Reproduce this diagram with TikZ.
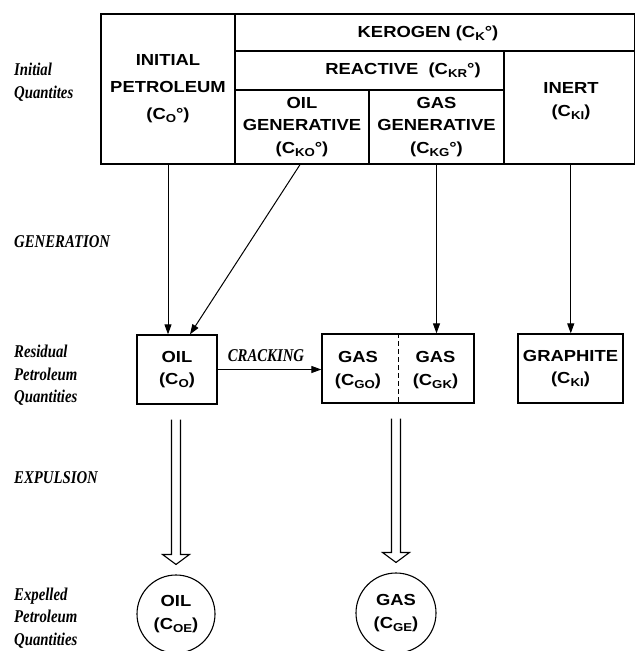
\documentclass[tikz,border=0pt]{standalone}
\usepackage{fontspec}
\usetikzlibrary{arrows.meta,calc}
\newfontfamily\boxfnt{Liberation Sans}[FakeStretch=1.15]
\newfontfamily\lblfnt{Liberation Serif}[FakeStretch=0.82]
\newcommand\sbs[1]{\raisebox{-0.35ex}{\fontsize{11.5}{12}\selectfont #1}}
\tikzset{
  cell/.style={draw, line width=1.3pt, inner sep=0pt, align=center,
    font={\boxfnt\bfseries\fontsize{16}{22.5}\selectfont}},
  txt/.style={inner sep=0pt, align=center,
    font={\boxfnt\bfseries\fontsize{16}{22.5}\selectfont}},
  lbl/.style={inner sep=0pt, align=left, anchor=west,
    font={\lblfnt\bfseries\itshape\fontsize{18}{22.5}\selectfont}},
  arr/.style={line width=1pt, -{Triangle[length=10pt,width=7pt]}},
  hollow/.style={line width=1.1pt, line join=miter},
  circ/.style={draw, circle, line width=1.1pt, inner sep=0pt, align=center,
    font={\boxfnt\bfseries\fontsize{16}{22.5}\selectfont}}
}
\begin{document}
\begin{tikzpicture}[x=1pt,y=-1pt]
\useasboundingbox (0,0) rectangle (636,651);
% top block
\node[cell, minimum width=134pt, minimum height=150pt] (ip) at (168,89) {INITIAL\\[4.5pt]PETROLEUM\\[4.5pt](C\sbs{O}°)};
\node[cell, minimum width=399.5pt, minimum height=37pt] (ker) at (434.75,32.5) {};
\node[txt] (kert) at (428,33) {KEROGEN (C\sbs{K}°)};
\node[cell, minimum width=269pt, minimum height=39pt] (rea) at (369.5,70.5) {};
\node[txt] (reat) at (403,70.5) {REACTIVE\ \ (C\sbs{KR}°)};
\node[cell, minimum width=134pt, minimum height=74pt] (og) at (302,127) {OIL\\GENERATIVE\\(C\sbs{KO}°)};
\node[cell, minimum width=135pt, minimum height=74pt] (gg) at (436.5,127) {GAS\\GENERATIVE\\(C\sbs{KG}°)};
\node[cell, minimum width=130.5pt, minimum height=113pt] (inert) at (569.25,107.5) {};
\node[txt] (inertt) at (571,101) {INERT\\(C\sbs{KI})};
% second row
\node[cell, minimum width=80pt, minimum height=69pt] (oilbox) at (177,369.5) {OIL\\(C\sbs{O})};
\node[cell, minimum width=152pt, minimum height=69pt] (gasbox) at (398,368.5) {};
\node[txt] (gasl) at (358,370) {GAS\\(C\sbs{GO})};
\node[txt] (gasr) at (435.5,370) {GAS\\(C\sbs{GK})};
\draw[line width=0.9pt, dash pattern=on 5pt off 3pt] (gasbox.north) -- (gasbox.south);
\node[cell, minimum width=105pt, minimum height=69pt] (graph) at (570.5,368.5) {GRAPHITE\\(C\sbs{KI})};
% circles
\node[circ, minimum size=78pt] (oilc) at (176,614) {OIL\\(C\sbs{OE})};
\node[circ, minimum size=80pt] (gasc) at (396,613) {GAS\\(C\sbs{GE})};
% left labels
\node[lbl] (l1) at (14,82) {Initial\\Quantites};
\node[lbl, anchor=base west] (l2) at (14,247) {GENERATION};
\node[lbl] (l3) at (14,375.5) {Residual\\Petroleum\\Quantities};
\node[lbl, anchor=base west] (l4) at (14,483) {EXPULSION};
\node[lbl] (l5) at (14,618) {Expelled\\Petroleum\\Quantities};
\node[lbl, anchor=base] (crk) at (266,361) {CRACKING};
% arrows
\draw[arr] (ip.south) -- (ip.south |- oilbox.north);
\draw[arr] ($(og.south)+(-2,0)$) -- ($(oilbox.north)+(13,0)$);
\draw[arr] (gg.south) -- (gg.south |- gasbox.north);
\draw[arr] ($(inert.south)+(1.5,0)$) -- ($(inert.south |- graph.north)+(1.5,0)$);
\draw[arr] (oilbox.east) -- (gasbox.west |- oilbox.east);
% hollow arrows
\draw[hollow] ($(oilc.north |- oilbox.south)+(-4.5,15)$) -- ($(oilc.north)+(-4.5,-20)$) -- ($(oilc.north)+(-13.5,-20)$) -- ($(oilc.north)+(0,-10)$) -- ($(oilc.north)+(13.5,-20)$) -- ($(oilc.north)+(4.5,-20)$) -- ($(oilc.north |- oilbox.south)+(4.5,15)$);
\draw[hollow] ($(gasc.north |- gasbox.south)+(-4.5,15)$) -- ($(gasc.north)+(-4.5,-20)$) -- ($(gasc.north)+(-13.5,-20)$) -- ($(gasc.north)+(0,-10)$) -- ($(gasc.north)+(13.5,-20)$) -- ($(gasc.north)+(4.5,-20)$) -- ($(gasc.north |- gasbox.south)+(4.5,15)$);
\end{tikzpicture}
\end{document}
